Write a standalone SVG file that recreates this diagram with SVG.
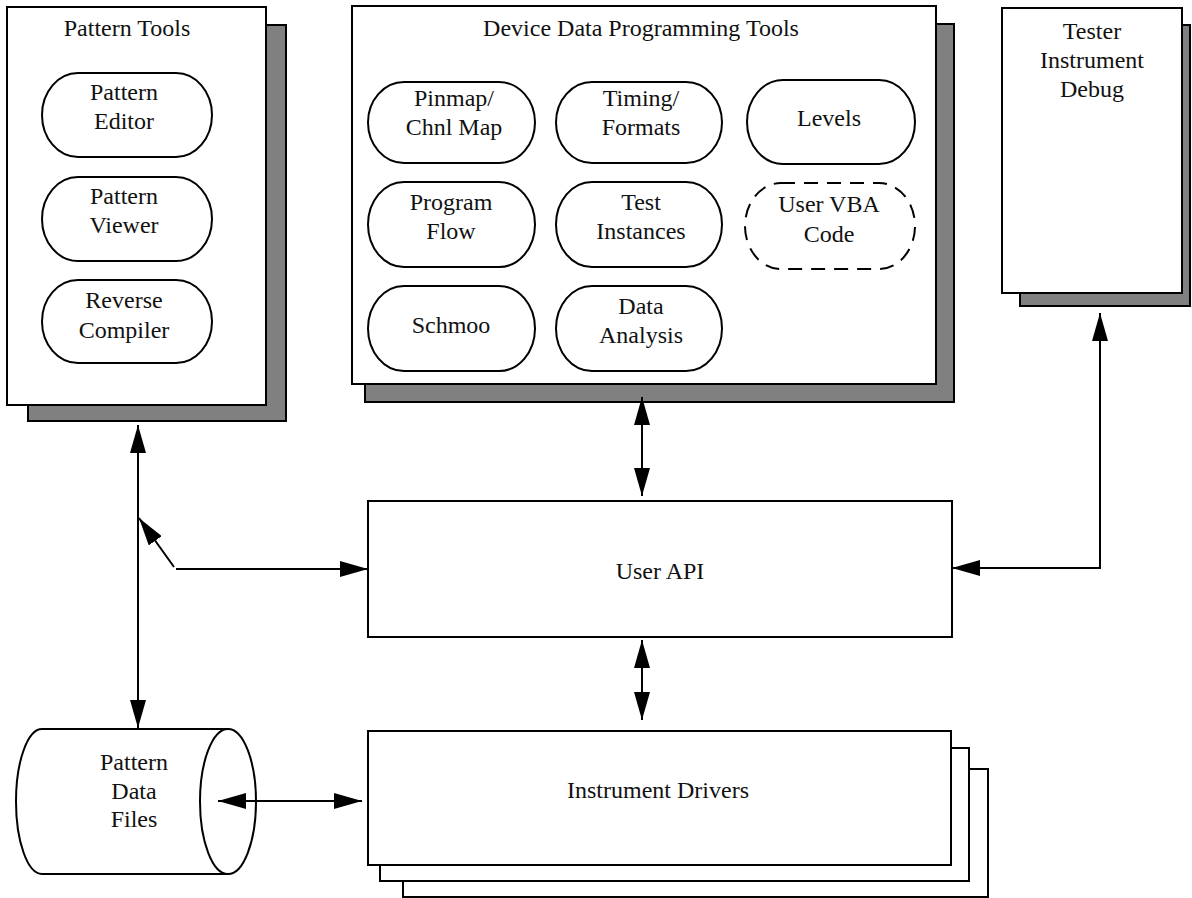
<svg xmlns="http://www.w3.org/2000/svg" width="1192" height="898" viewBox="0 0 1192 898">
  <style>
    .panel { fill: #ffffff; stroke: #000000; stroke-width: 2; }
    .shadow { fill: #808080; stroke: #000000; stroke-width: 2; }
    .tool { fill: #ffffff; stroke: #000000; stroke-width: 2; }
    .dashed { stroke-dasharray: 14 9; }
    .box { fill: #ffffff; stroke: #000000; stroke-width: 2; }
    .wire { fill: none; stroke: #000000; stroke-width: 2; }
    text { font-family: "Liberation Serif", "Times New Roman", serif; font-size: 24px; fill: #111111; text-anchor: middle; }
  </style>
  <defs>
    <marker id="head" viewBox="0 0 28 16" refX="28" refY="8" markerWidth="28" markerHeight="16" markerUnits="userSpaceOnUse" orient="auto-start-reverse">
      <path d="M0,0 L28,8 L0,16 Z" fill="#000000"/>
    </marker>
  </defs>
  <rect width="1192" height="898" fill="#ffffff"/>

  <!-- Pattern Tools panel -->
  <g id="pattern-tools">
    <rect class="shadow" x="28" y="25" width="258" height="396"/>
    <rect class="panel" x="7" y="7" width="259" height="398"/>
    <text x="127" y="36">Pattern Tools</text>
    <g id="pattern-editor">
      <rect class="tool" x="42" y="73" width="170" height="84" rx="36" ry="42"/>
      <text x="124" y="100">Pattern</text>
      <text x="124" y="129">Editor</text>
    </g>
    <g id="pattern-viewer">
      <rect class="tool" x="42" y="177" width="170" height="84" rx="36" ry="42"/>
      <text x="124" y="204">Pattern</text>
      <text x="124" y="233">Viewer</text>
    </g>
    <g id="reverse-compiler">
      <rect class="tool" x="42" y="280" width="170" height="83" rx="36" ry="41.5"/>
      <text x="124" y="308">Reverse</text>
      <text x="124" y="338">Compiler</text>
    </g>
  </g>

  <!-- Device Data Programming Tools panel -->
  <g id="device-tools">
    <rect class="shadow" x="365" y="24" width="589" height="378"/>
    <rect class="panel" x="352" y="6" width="584" height="378"/>
    <text x="641" y="36">Device Data Programming Tools</text>
    <g id="pinmap">
      <rect class="tool" x="368" y="82" width="167" height="81" rx="36" ry="40.5"/>
      <text x="454" y="106">Pinmap/</text>
      <text x="454" y="135">Chnl Map</text>
    </g>
    <g id="timing">
      <rect class="tool" x="556" y="82" width="166" height="81" rx="36" ry="40.5"/>
      <text x="641" y="106">Timing/</text>
      <text x="641" y="135">Formats</text>
    </g>
    <g id="levels">
      <rect class="tool" x="747" y="80" width="168" height="84" rx="36" ry="42"/>
      <text x="829" y="126">Levels</text>
    </g>
    <g id="program-flow">
      <rect class="tool" x="368" y="182" width="167" height="85" rx="36" ry="42.5"/>
      <text x="451" y="210">Program</text>
      <text x="451" y="239">Flow</text>
    </g>
    <g id="test-instances">
      <rect class="tool" x="556" y="182" width="166" height="85" rx="36" ry="42.5"/>
      <text x="641" y="210">Test</text>
      <text x="641" y="239">Instances</text>
    </g>
    <g id="user-vba">
      <rect class="tool dashed" x="745" y="183" width="170" height="86" rx="36" ry="43"/>
      <text x="829" y="212">User VBA</text>
      <text x="829" y="242">Code</text>
    </g>
    <g id="schmoo">
      <rect class="tool" x="368" y="286" width="167" height="85" rx="36" ry="42.5"/>
      <text x="451" y="333">Schmoo</text>
    </g>
    <g id="data-analysis">
      <rect class="tool" x="556" y="286" width="166" height="85" rx="36" ry="42.5"/>
      <text x="641" y="314">Data</text>
      <text x="641" y="343">Analysis</text>
    </g>
  </g>

  <!-- Tester Instrument Debug panel -->
  <g id="tester-debug">
    <rect class="shadow" x="1020" y="25" width="170" height="281"/>
    <rect class="panel" x="1002" y="8" width="180" height="285"/>
    <text x="1092" y="39">Tester</text>
    <text x="1092" y="68">Instrument</text>
    <text x="1092" y="97">Debug</text>
  </g>

  <!-- User API -->
  <g id="user-api">
    <rect class="box" x="368" y="501" width="584" height="136"/>
    <text x="660" y="579">User API</text>
  </g>

  <!-- Instrument Drivers (stacked) -->
  <g id="instrument-drivers">
    <rect class="box" x="403" y="769" width="585" height="128"/>
    <rect class="box" x="380" y="748" width="589" height="133"/>
    <rect class="box" x="368" y="731" width="583" height="134"/>
    <text x="658" y="798">Instrument Drivers</text>
  </g>

  <!-- Pattern Data Files cylinder -->
  <g id="pattern-data-files">
    <path class="box" d="M42,729 L228,729 L228,874 L42,874 A26,72.5 0 0 1 42,729 Z"/>
    <ellipse class="box" cx="228" cy="801.5" rx="28" ry="72.5"/>
    <text x="134" y="770">Pattern</text>
    <text x="134" y="799">Data</text>
    <text x="134" y="827">Files</text>
  </g>

  <!-- Connectors -->
  <g id="connectors">
    <line class="wire" x1="138" y1="425" x2="138" y2="728" marker-start="url(#head)" marker-end="url(#head)"/>
    <line class="wire" x1="174" y1="567" x2="139" y2="518" marker-end="url(#head)"/>
    <line class="wire" x1="176" y1="569" x2="368" y2="569" marker-end="url(#head)"/>
    <line class="wire" x1="642" y1="397" x2="642" y2="496" marker-start="url(#head)" marker-end="url(#head)"/>
    <line class="wire" x1="642" y1="640" x2="642" y2="720" marker-start="url(#head)" marker-end="url(#head)"/>
    <line class="wire" x1="218" y1="801" x2="362" y2="801" marker-start="url(#head)" marker-end="url(#head)"/>
    <polyline class="wire" points="1100,313 1100,568 952,568" marker-start="url(#head)" marker-end="url(#head)"/>
  </g>
</svg>
